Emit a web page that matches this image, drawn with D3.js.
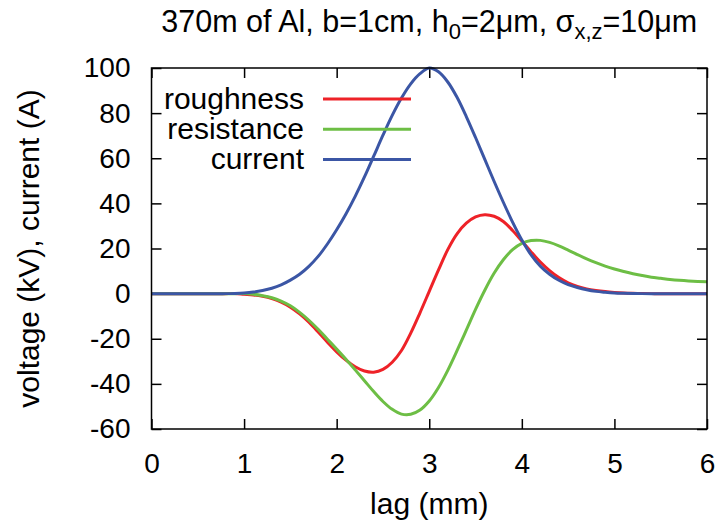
<!DOCTYPE html>
<html>
<head>
<meta charset="utf-8">
<script src="https://cdn.jsdelivr.net/npm/d3@7"></script>
<style>
  body { margin: 0; background: #fff; }
  svg text { font-family: "Liberation Sans", Arial, Helvetica, sans-serif; fill: #000; }
</style>
</head>
<body>
<div id="chart"></div>
<script>

//******************************************************************************
//**  Data
//******************************************************************************
var lag = [
  0.0, 0.1, 0.2, 0.3, 0.4, 0.5, 0.6, 0.7, 0.8, 0.9,
  1.0, 1.1, 1.2, 1.3, 1.4, 1.5, 1.6, 1.7, 1.8, 1.9,
  2.0, 2.1, 2.2, 2.3, 2.4, 2.5, 2.6, 2.7, 2.8, 2.9,
  3.0, 3.1, 3.2, 3.3, 3.4, 3.5, 3.6, 3.7, 3.8, 3.9,
  4.0, 4.1, 4.2, 4.3, 4.4, 4.5, 4.6, 4.7, 4.8, 4.9,
  5.0, 5.1, 5.2, 5.3, 5.4, 5.5, 5.6, 5.7, 5.8, 5.9, 6.0
];

var roughness = [
  0, 0, 0, 0, 0, 0, 0, 0, 0, 0,
  -0.3, -0.6, -1.2, -2.2, -3.8, -6.0, -9.0, -12.7, -17.0, -21.5,
  -25.8, -29.5, -32.4, -34.3, -34.8, -33.6, -30.4, -25.2, -17.5, -8.5,
  1.0, 10.5, 19.5, 26.5, 31.2, 34.0, 35.0, 34.3, 32.0, 28.0,
  23.3, 18.5, 14.0, 10.2, 7.1, 4.8, 3.2, 2.1, 1.4, 0.9,
  0.55, 0.3, 0.15, 0.05, 0, 0, 0, 0, 0, 0, 0
];

var resistance = [
  0, 0, 0, 0, 0, 0, 0, 0, 0, 0,
  0, -0.3, -0.9, -1.8, -3.3, -5.4, -8.3, -11.8, -15.8, -20.2,
  -24.6, -29.1, -33.8, -38.6, -43.4, -47.8, -51.3, -53.4, -53.5, -51.6,
  -47.6, -41.6, -34.0, -25.3, -16.2, -7.0, 1.5, 9.0, 15.0, 19.5,
  22.3, 23.5, 23.6, 22.7, 21.2, 19.3, 17.3, 15.4, 13.7, 12.2,
  10.9, 9.8, 8.8, 8.0, 7.3, 6.8, 6.3, 5.9, 5.6, 5.4, 5.3
];

var current = [
  0, 0, 0, 0, 0, 0, 0, 0, 0, 0.1,
  0.3, 0.7, 1.4, 2.4, 3.9, 6.0, 8.6, 12.1, 16.5, 22.0,
  28.3, 35.3, 43.1, 51.7, 60.9, 70.2, 79.0, 86.7, 93.0, 97.5,
  100, 98.3, 93.8, 87.0, 78.5, 69.2, 59.5, 49.8, 40.5, 31.7,
  23.8, 17.2, 12.2, 8.6, 5.9, 4.0, 2.7, 1.7, 1.0, 0.6,
  0.3, 0.15, 0.05, 0, 0, 0, 0, 0, 0, 0, 0
];

var seriesNames = ["roughness", "resistance", "current"];
var seriesColors = ["#ee2228", "#6dbe45", "#3b56a5"];

var xTicks = [0, 1, 2, 3, 4, 5, 6];
var yTicks = [-60, -40, -20, 0, 20, 40, 60, 80, 100];


//******************************************************************************
//**  Chart
//******************************************************************************
var width = 719, height = 527;
var margin = {left: 151.5, right: 12, top: 68, bottom: 98};
var plotW = width - margin.left - margin.right;
var plotH = height - margin.top - margin.bottom;
var tickLen = 10;

var svg = d3.select("#chart").append("svg")
    .attr("width", width)
    .attr("height", height);

var x = d3.scaleLinear().domain([0, 6]).range([0, plotW]);
var y = d3.scaleLinear().domain([-60, 100]).range([plotH, 0]);

var g = svg.append("g")
    .attr("transform", "translate(" + margin.left + "," + margin.top + ")");

g.append("clipPath").attr("id", "plotClip")
  .append("rect")
    .attr("x", 0).attr("y", -2)
    .attr("width", plotW).attr("height", plotH + 4);


  //**************************************************************************
  //** Axes (ticks inward on all four sides)
  //**************************************************************************
    var fmt = function(d){ return String(d); };

    var axisB = g.append("g")
        .attr("transform", "translate(0," + plotH + ")")
        .call(d3.axisBottom(x).tickValues(xTicks).tickSizeInner(-tickLen).tickSizeOuter(0).tickPadding(24).tickFormat(fmt));
    var axisT = g.append("g")
        .call(d3.axisTop(x).tickValues(xTicks).tickSizeInner(-tickLen).tickSizeOuter(0).tickFormat(""));
    var axisL = g.append("g")
        .call(d3.axisLeft(y).tickValues(yTicks).tickSizeInner(-tickLen).tickSizeOuter(0).tickPadding(21).tickFormat(fmt));
    var axisR = g.append("g")
        .attr("transform", "translate(" + plotW + ",0)")
        .call(d3.axisRight(y).tickValues(yTicks).tickSizeInner(-tickLen).tickSizeOuter(0).tickFormat(""));

    [axisB, axisT, axisL, axisR].forEach(function(a){
        a.select(".domain").remove();
        a.selectAll(".tick line").attr("stroke", "#000").attr("stroke-width", 1.5);
        a.selectAll(".tick text")
            .attr("font-size", 28)
            .attr("font-family", "Liberation Sans, Arial, sans-serif")
            .attr("fill", "#000");
    });


  //**************************************************************************
  //** Lines
  //**************************************************************************
    var line = d3.line()
        .x(function(d){ return x(d[0]); })
        .y(function(d){ return y(d[1]); })
        .curve(d3.curveCatmullRom.alpha(0.5));

    var allSeries = [roughness, resistance, current];
    var lines = g.append("g").attr("clip-path", "url(#plotClip)");
    allSeries.forEach(function(vals, i){
        var pts = lag.map(function(l, j){ return [l, vals[j]]; });
        lines.append("path")
            .attr("d", line(pts))
            .attr("fill", "none")
            .attr("stroke", seriesColors[i])
            .attr("stroke-width", 3)
            .attr("stroke-linejoin", "round");
    });


  //**************************************************************************
  //** Frame
  //**************************************************************************
    g.append("rect")
        .attr("x", 0).attr("y", 0)
        .attr("width", plotW).attr("height", plotH)
        .attr("fill", "none")
        .attr("stroke", "#000")
        .attr("stroke-width", 1.5);


  //**************************************************************************
  //** Legend
  //**************************************************************************
    var legend = svg.append("g");
    seriesNames.forEach(function(name, i){
        var ly = 99 + i * 30.2;
        legend.append("text")
            .attr("x", 304)
            .attr("y", ly)
            .attr("dy", "0.33em")
            .attr("text-anchor", "end")
            .attr("font-size", 30)
            .text(name);
        legend.append("line")
            .attr("x1", 323).attr("x2", 411)
            .attr("y1", ly).attr("y2", ly)
            .attr("stroke", seriesColors[i])
            .attr("stroke-width", 3);
    });


  //**************************************************************************
  //** Labels
  //**************************************************************************
    var title = svg.append("text")
        .attr("x", margin.left + plotW / 2)
        .attr("y", 32)
        .attr("text-anchor", "middle")
        .attr("font-size", 30.5);
    title.append("tspan").text("370m of Al, b=1cm, h");
    title.append("tspan").attr("font-size", 22).attr("dy", 7).text("0");
    title.append("tspan").attr("dy", -7).text("=2\u03bcm, \u03c3");
    title.append("tspan").attr("font-size", 22).attr("dy", 7).text("x,z");
    title.append("tspan").attr("dy", -7).text("=10\u03bcm");

    svg.append("text")
        .attr("x", margin.left + plotW / 2)
        .attr("y", 514)
        .attr("text-anchor", "middle")
        .attr("font-size", 30)
        .text("lag (mm)");

    svg.append("text")
        .attr("transform", "translate(39," + (margin.top + plotH / 2) + ") rotate(-90)")
        .attr("text-anchor", "middle")
        .attr("font-size", 30)
        .text("voltage (kV), current (A)");

</script>
</body>
</html>
